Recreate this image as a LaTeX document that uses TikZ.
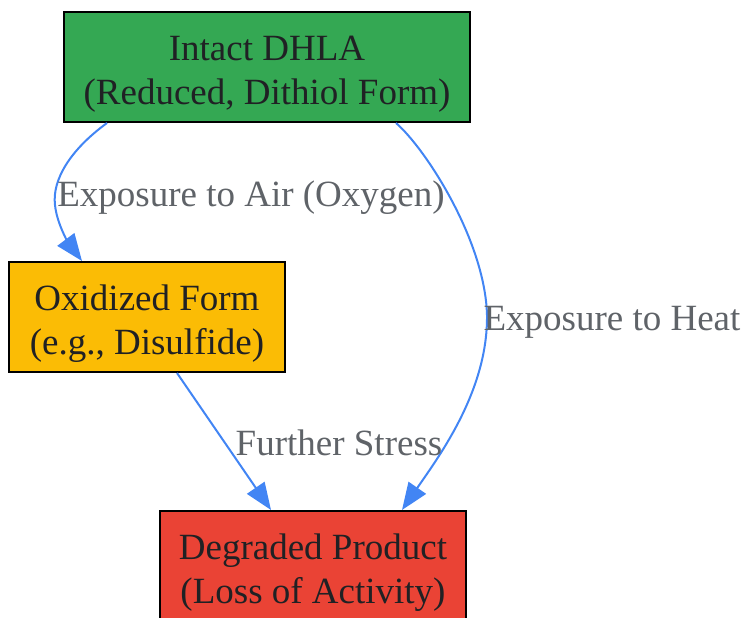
\documentclass[tikz,border=0pt]{standalone}
\usepackage{fontspec}
\setmainfont{Liberation Serif}
\usetikzlibrary{arrows.meta,positioning,calc}
\definecolor{gooblue}{HTML}{4285F4}
\definecolor{googreen}{HTML}{34A853}
\definecolor{gooyellow}{HTML}{FBBC05}
\definecolor{goored}{HTML}{EA4335}
\definecolor{txtdark}{HTML}{202124}
\definecolor{txtgray}{HTML}{5F6368}
\newcommand{\topgap}{\rule{0pt}{38pt}}

\begin{document}
\begin{tikzpicture}[x=1pt, y=1pt,
    box/.style={draw=black, line width=2pt, text=txtdark, align=center,
        minimum height=110pt, inner sep=0pt, font=\fontsize{37}{44}\selectfont},
    lbl/.style={text=txtgray, inner sep=0pt, font=\fontsize{37}{44}\selectfont},
    flow/.style={gooblue, line width=2pt, -{Triangle[length=27pt, width=21pt]}}]
    \useasboundingbox (0,0) rectangle (745,-618);

    % States
    \node[box, fill=googreen, minimum width=406pt] (dhla) at (267,-67)
        {\topgap Intact DHLA\\(Reduced, Dithiol Form)};
    \node[box, fill=gooyellow, minimum width=276pt] (oxid) at (147,-317)
        {\topgap Oxidized Form\\(e.g., Disulfide)};
    \node[box, fill=goored, minimum width=306pt] (degr) at (313,-566)
        {\topgap Degraded Product\\(Loss of Activity)};

    % Transitions
    \draw[flow] ([xshift=44pt]dhla.south west) .. controls (70,-150) and (52,-180) .. (55,-205)
        .. controls (57,-225) and (70,-245) .. ([xshift=74pt]oxid.north west);
    \draw[flow] ([xshift=333pt]dhla.south west) .. controls (425,-148) and (485,-240) .. (487,-315)
        .. controls (488,-390) and (440,-455) .. ([xshift=243pt]degr.north west);
    \draw[flow] ([xshift=169pt]oxid.south west) -- ([xshift=112pt]degr.north west);

    % Labels
    \node[lbl] (air) at (251,-198) {Exposure to Air (Oxygen)};
    \node[lbl] (heat) at (612,-322) {Exposure to Heat};
    \node[lbl] (stress) at (339,-443) {Further Stress};
\end{tikzpicture}
\end{document}
